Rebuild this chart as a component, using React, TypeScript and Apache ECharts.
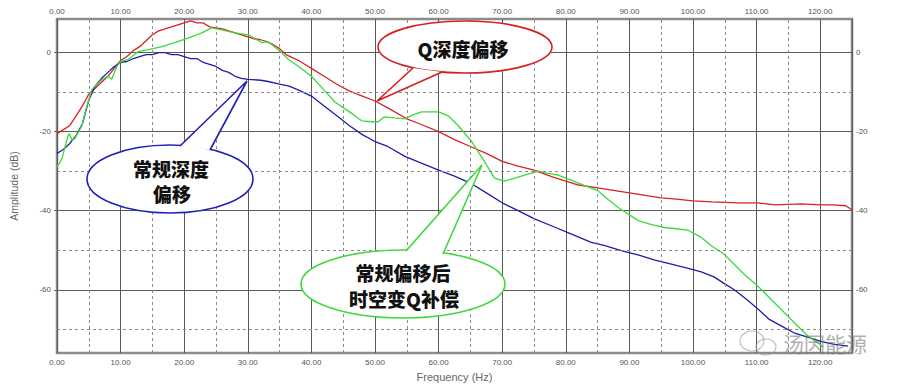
import React, { useEffect, useRef } from "react";
import * as echarts from "echarts";

// ---- data ----
const redFreq = [0, 1, 2, 3, 4, 5, 6, 7, 8, 9, 10, 11, 12, 13, 14, 15, 16, 17, 18, 19, 20, 21, 22, 23, 24, 25, 26, 27, 28, 29, 30, 31, 32, 33, 34, 35, 36, 37, 38, 39, 40, 42, 44, 46, 48, 50, 52, 55, 57, 60, 62.5, 65, 67.5, 70, 72.5, 75, 78, 80, 82, 85, 88, 90, 93, 95, 97, 100, 103, 107, 110, 113, 117, 120, 122, 124, 125];
const redDb = [-20.5, -19.5, -18.5, -16, -13.5, -10.5, -9, -7.5, -6, -4, -2, -1, 0.5, 1.5, 3, 4.5, 5.5, 6, 6.5, 7, 7.5, 8, 7.5, 7.5, 6.5, 6.25, 6, 5.5, 5, 4.5, 4, 3.5, 3.25, 2.75, 2, 1, -0.5, -1.25, -2, -3, -4, -6, -8, -9.75, -11, -12.25, -14, -16.75, -18, -20, -22, -23.75, -25.5, -27.5, -28.75, -29.75, -31.5, -32.5, -33.5, -34.25, -35, -35.5, -36.25, -36.75, -37, -37.5, -37.75, -38, -38, -38.5, -38.25, -38.5, -38.5, -38.75, -39.75];

const blueFreq = [0, 1, 2, 3, 4, 5, 6, 7, 8, 9, 10, 11, 12, 13, 14, 15, 16, 17, 18, 19, 20, 21, 22, 23, 24, 25, 26, 27, 28, 29, 30, 32, 33, 35, 36.5, 38, 40, 42, 44, 46, 48, 50, 52, 54.7, 57, 60, 62.5, 65, 67.5, 70, 72.5, 75, 78, 81, 84, 86, 89, 91.5, 94, 96.6, 99.7, 101.3, 103.3, 105, 106.5, 108.5, 110.3, 112, 114, 116, 118, 120, 122, 124.4];
const blueDb = [-25.5, -24.5, -23, -21, -18, -12, -8.5, -6.5, -5, -3.5, -2.5, -2.25, -1.5, -1, -0.5, -0.5, 0, 0, -0.5, -0.5, -1, -1.5, -1.5, -2.5, -3, -3.5, -4.5, -5, -6, -6.5, -6.75, -7, -7.25, -8, -8.5, -9.5, -11, -13.5, -16, -18.5, -20.75, -22.5, -23.75, -26.25, -27.75, -29.75, -31.25, -33, -35.5, -38, -40, -42, -44, -46, -48, -48.75, -50.25, -51.25, -52.5, -53.5, -54.75, -55.5, -56.75, -58.5, -60, -62.5, -65, -67.5, -69.25, -71, -72, -73, -73.75, -74.25];

const greenFreq = [0, 0.8, 1.6, 1.9, 2.4, 2.8, 3.9, 4.7, 5.5, 6.3, 7.1, 8, 8.6, 9.4, 10, 11.2, 12.8, 14.4, 16.5, 18.5, 20.7, 22.8, 24.3, 25.9, 28, 30.1, 32.2, 33.2, 35.3, 36.4, 38, 40, 42, 43.7, 46, 47.9, 49.5, 50.5, 51.5, 53, 54.7, 56, 57.3, 60, 61.5, 63.1, 65.2, 67.2, 68.8, 70.4, 72, 73, 75.7, 77, 78.8, 82, 85.1, 86.5, 88.3, 91.4, 93.5, 95.5, 97, 99.3, 101.3, 103, 104.9, 108, 110.3, 113.4, 116.5, 118.1, 119.7, 120.5];
const greenDb = [-29, -26.75, -21.75, -20.5, -22.25, -21.75, -18.5, -13.5, -9.25, -8, -6.75, -6, -6.75, -3.5, -2.25, -1.75, 0.25, 0.75, 1.5, 2.5, 3.75, 5, 6.25, 5.75, 5, 4.5, 2.5, 2.75, 0, -1.75, -3.5, -6, -9.5, -12.5, -15, -17.25, -17.5, -17.5, -16.25, -16.5, -16.75, -15.75, -15, -15, -16, -18.5, -22.5, -27.5, -31.75, -32.5, -31.75, -31.25, -30, -30.5, -31, -33, -35, -37, -39.25, -42.5, -43.5, -44.25, -44.5, -45, -46.75, -49, -51, -56, -59.25, -64.25, -69.25, -71.75, -73.5, -74.5];

const yMinorLines = [-10, -30, -50, -70];
const xMinorLines = [5, 15, 25, 35, 45, 55, 65, 75, 85, 95, 105, 115];
const yLabelValues = [-60, -40, -20, 0];

const seriesNames = ["Q深度偏移", "常规深度偏移", "常规偏移后时空变Q补偿"];

const pairs = (f: number[], d: number[]) => f.map((x, i) => [x, d[i]]);

const LABEL_FONT = "'Liberation Sans', Arial, sans-serif";
const CJK = "'Noto Sans CJK SC', sans-serif";

function callout(
  color: string,
  cx: number,
  cy: number,
  rx: number,
  ry: number,
  b1: number[],
  tip: number[],
  b2: number[],
  lines: { text: string; x: number; y: number }[]
) {
  return [
    {
      type: "ellipse",
      z: 10,
      shape: { cx, cy, rx, ry },
      style: { fill: "#fff", stroke: color, lineWidth: 1.6 },
    },
    {
      type: "polygon",
      z: 10,
      shape: { points: [b1, tip, b2] },
      style: { fill: "#fff", stroke: null },
    },
    {
      type: "polyline",
      z: 10,
      shape: { points: [b1, tip, b2] },
      style: { stroke: color, lineWidth: 1.6, fill: null },
    },
    ...lines.map((t) => ({
      type: "text",
      z: 11,
      x: t.x,
      y: t.y,
      style: {
        text: t.text,
        fill: "#111",
        fontSize: 19,
        fontWeight: 900,
        fontFamily: CJK,
        align: "center",
        verticalAlign: "middle",
      },
    })),
  ];
}

export default function App() {
  const ref = useRef<HTMLDivElement>(null);
  useEffect(() => {
    if (!ref.current) return;
    const chart = echarts.init(ref.current, undefined, { renderer: "svg" });
    const xFmt = (v: number) => (v % 10 === 0 ? v.toFixed(2) : "");
    const yFmt = (v: number) => (v % 20 === 0 ? String(v) : "");
    const axisLabelBase = { fontSize: 8, color: "#555", fontFamily: LABEL_FONT };
    const option: any = {
      animation: false,
      backgroundColor: "#fff",
      grid: {
        left: 55,
        right: 48,
        top: 19,
        bottom: 30,
        show: true,
        borderColor: "#8c8c8c",
        borderWidth: 2.5,
        backgroundColor: "transparent",
      },
      xAxis: [
        {
          type: "value",
          position: "bottom",
          min: 0,
          max: 125,
          interval: 10,
          axisLine: { show: false },
          axisTick: { show: false },
          splitLine: { show: true, lineStyle: { color: "#5a5a5a", width: 1 } },
          axisLabel: { ...axisLabelBase, formatter: xFmt, margin: 5, showMaxLabel: false },
          name: "Frequency (Hz)",
          nameLocation: "middle",
          nameGap: 18,
          nameTextStyle: { fontSize: 11, color: "#666", fontFamily: LABEL_FONT },
        },
        {
          type: "value",
          position: "top",
          min: 0,
          max: 125,
          interval: 10,
          axisLine: { show: false },
          axisTick: { show: false },
          splitLine: { show: false },
          axisLabel: { ...axisLabelBase, formatter: xFmt, margin: 4, showMaxLabel: false },
        },
      ],
      yAxis: [
        {
          type: "value",
          position: "left",
          min: -76,
          max: 8.5,
          axisLine: { show: false },
          axisTick: { show: true, length: 3, lineStyle: { color: "#666" }, customValues: yLabelValues },
          splitLine: { show: true, lineStyle: { color: "#5a5a5a", width: 1 } },
          axisLabel: { ...axisLabelBase, formatter: yFmt, margin: 6, customValues: yLabelValues },
          name: "Amplitude (dB)",
          nameLocation: "middle",
          nameGap: 38,
          nameRotate: 90,
          nameTextStyle: { fontSize: 10.5, color: "#666", fontFamily: LABEL_FONT },
        },
        {
          type: "value",
          position: "right",
          min: -76,
          max: 8.5,
          axisLine: { show: false },
          axisTick: { show: true, length: 3, inside: false, lineStyle: { color: "#666" }, customValues: yLabelValues },
          splitLine: { show: false },
          axisLabel: { ...axisLabelBase, formatter: yFmt, margin: 4, customValues: yLabelValues },
        },
      ],
      series: [
        {
          type: "line",
          name: "grid",
          data: [],
          silent: true,
          z: 1,
          markLine: {
            silent: true,
            symbol: ["none", "none"],
            label: { show: false },
            animation: false,
            lineStyle: { color: "#8a8a8a", type: [3, 3], width: 1 },
            data: [
              ...yMinorLines.map((v) => ({ yAxis: v })),
              ...xMinorLines.map((v) => ({ xAxis: v })),
            ],
          },
        },
        {
          type: "line",
          name: seriesNames[0],
          data: pairs(redFreq, redDb),
          showSymbol: false,
          z: 3,
          lineStyle: { color: "#d82222", width: 1.3 },
          itemStyle: { color: "#d82222" },
        },
        {
          type: "line",
          name: seriesNames[1],
          data: pairs(blueFreq, blueDb),
          showSymbol: false,
          z: 3,
          lineStyle: { color: "#1e1eaa", width: 1.3 },
          itemStyle: { color: "#1e1eaa" },
        },
        {
          type: "line",
          name: seriesNames[2],
          data: pairs(greenFreq, greenDb),
          showSymbol: false,
          z: 3,
          lineStyle: { color: "#38dc38", width: 1.3 },
          itemStyle: { color: "#38dc38" },
        },
      ],
      graphic: [
        ...callout("#d42020", 465, 47, 87, 26, [413, 68], [377, 101], [442, 72], [
          { text: "Q深度偏移", x: 463, y: 48 },
        ]),
        ...callout("#2020b8", 170, 179, 83, 34, [180, 146], [247, 81], [210, 150], [
          { text: "常规深度", x: 171, y: 168 },
          { text: "偏移", x: 172, y: 193 },
        ]),
        ...callout("#3cd83c", 403, 284, 102, 34, [406, 251], [482, 165], [443, 254], [
          { text: "常规偏移后", x: 403, y: 272 },
          { text: "时空变Q补偿", x: 404, y: 298 },
        ]),
        {
          type: "ellipse",
          z: 20,
          shape: { cx: 752, cy: 341, rx: 12, ry: 10 },
          style: { fill: "none", stroke: "rgba(150,150,150,0.6)", lineWidth: 1.2 },
        },
        {
          type: "ellipse",
          z: 20,
          shape: { cx: 766, cy: 347, rx: 10, ry: 8 },
          style: { fill: "none", stroke: "rgba(150,150,150,0.6)", lineWidth: 1.2 },
        },
        {
          type: "text",
          z: 20,
          x: 783,
          y: 343,
          style: {
            text: "汤因能源",
            fill: "rgba(120,120,120,0.6)",
            fontSize: 21,
            fontFamily: CJK,
            align: "left",
            verticalAlign: "middle",
          },
        },
      ],
    };
    chart.setOption(option);
    return () => chart.dispose();
  }, []);
  return (
    <div
      ref={ref}
      style={{ position: "fixed", left: 0, top: 0, width: 900, height: 387, background: "#fff" }}
    />
  );
}
